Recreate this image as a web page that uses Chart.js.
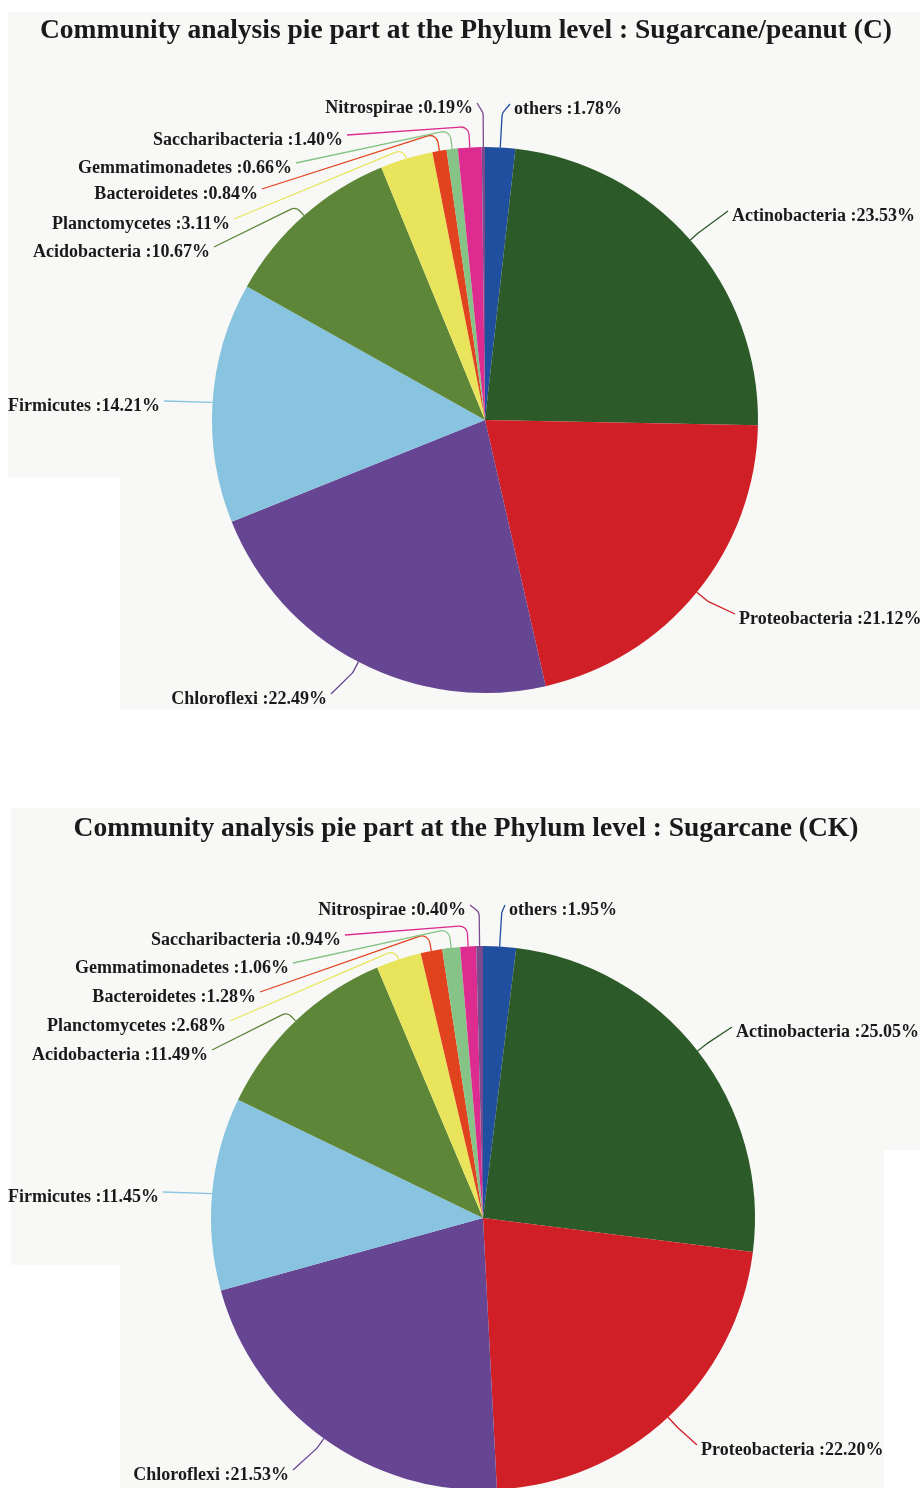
<!DOCTYPE html>
<html>
<head>
<meta charset="utf-8">
<script src="https://cdn.jsdelivr.net/npm/chart.js@4.4.1/dist/chart.umd.min.js"></script>
<style>
  html, body { margin: 0; padding: 0; background: #ffffff; }
  body { width: 920px; height: 1488px; position: relative; overflow: hidden; }
  .panel { position: absolute; background: #f8f8f6; }
  #panel1 { left: 8px; top: 12px; width: 912px; height: 697px;
    clip-path: polygon(0 0, 100% 0, 100% 100%, 112px 100%, 112px 465px, 0 465px); }
  #panel2 { left: 11px; top: 808px; width: 909px; height: 680px;
    clip-path: polygon(0 0, 100% 0, 100% 342px, 873px 342px, 873px 100%, 109px 100%, 109px 457px, 0 457px); }
  canvas { position: absolute; left: 0; }
  #pieC { top: 0; }
  #pieCK { top: 780px; }
</style>
</head>
<body>
<div class="panel" id="panel1"></div>
<div class="panel" id="panel2"></div>
<canvas id="pieC" width="920" height="740"></canvas>
<canvas id="pieCK" width="920" height="730"></canvas>
<script>
// 门水平物种组成
const phyla = ['others', 'Actinobacteria', 'Proteobacteria', 'Chloroflexi', 'Firmicutes', 'Acidobacteria',
  'Planctomycetes', 'Bacteroidetes', 'Gemmatimonadetes', 'Saccharibacteria', 'Nitrospirae'];
const valuesC = [1.78, 23.53, 21.12, 22.49, 14.21, 10.67, 3.11, 0.84, 0.66, 1.40, 0.19];
const valuesCK = [1.95, 25.05, 22.20, 21.53, 11.45, 11.49, 2.68, 1.28, 1.06, 0.94, 0.40];
const phylumColors = ['#1f4f9e', '#2d5a29', '#d01f26', '#664592', '#88c4e0', '#5e8639',
  '#e8e55c', '#e2431f', '#86c387', '#dc2c8f', '#7a4a8f'];

const titleC = 'Community analysis pie part at the Phylum level : Sugarcane/peanut (C)';
const titleCK = 'Community analysis pie part at the Phylum level : Sugarcane (CK)';

// label anchor [x, y, align, elbow] per slice, canvas px
const labelsC = [
  [510, 104, 'left', 34], [728, 211, 'left', 12], [735, 614, 'left', 14], [331, 694, 'right', 12],
  [164, 401, 'right', 0], [214, 247, 'right', 12], [234, 219, 'right', 10], [262, 189, 'right', 18],
  [296, 163, 'right', 19], [347, 135, 'right', 21], [477, 103, 'right', 34]
];
const labelsCK = [
  [505, 125, 'left', 34], [732, 247, 'left', 12], [697, 665, 'left', 14], [293, 690, 'right', 12],
  [163, 412, 'right', 0], [212, 270, 'right', 12], [230, 241, 'right', 10], [260, 212, 'right', 18],
  [293, 183, 'right', 19], [345, 155, 'right', 21], [470, 125, 'right', 34]
];

const leaderLabels = {
  id: 'leaderLabels',
  afterDraw(chart, args, opts) {
    const ctx = chart.ctx;
    const meta = chart.getDatasetMeta(0);
    const values = chart.data.datasets[0].data;
    ctx.save();
    // title
    ctx.fillStyle = '#1a1a1a';
    ctx.font = 'bold 27.5px "Liberation Serif", "Times New Roman", serif';
    ctx.textAlign = 'center';
    ctx.textBaseline = 'alphabetic';
    ctx.fillText(opts.title, opts.titleX, opts.titleY, opts.titleWidth);

    ctx.font = 'bold 18px "Liberation Serif", "Times New Roman", serif';
    ctx.textBaseline = 'middle';
    meta.data.forEach((arc, i) => {
      const [lx, ly, align, elbow] = opts.anchors[i];
      const p = arc.getProps(['x', 'y', 'startAngle', 'endAngle', 'outerRadius'], true);
      const mid = (p.startAngle + p.endAngle) / 2;
      const x0 = p.x + Math.cos(mid) * p.outerRadius;
      const y0 = p.y + Math.sin(mid) * p.outerRadius;
      const x1 = p.x + Math.cos(mid) * (p.outerRadius + elbow);
      const y1 = p.y + Math.sin(mid) * (p.outerRadius + elbow);

      ctx.strokeStyle = chart.data.datasets[0].backgroundColor[i];
      ctx.lineWidth = 1.3;
      ctx.beginPath();
      ctx.moveTo(x0, y0);
      if (elbow > 0) {
        ctx.arcTo(x1, y1, lx, ly, 8);
      }
      ctx.lineTo(lx, ly);
      ctx.stroke();

      const text = chart.data.labels[i] + ' :' + values[i].toFixed(2) + '%';
      ctx.textAlign = align;
      ctx.fillStyle = '#1a1a1a';
      const tx = align === 'left' ? lx + 4 : lx - 4;
      ctx.fillText(text, tx, ly + 5);
    });
    ctx.restore();
  }
};

function makePie(canvasId, values, anchors, title, titleY, titleWidth, padding) {
  return new Chart(document.getElementById(canvasId), {
    type: 'pie',
    data: {
      labels: phyla,
      datasets: [{
        data: values,
        backgroundColor: phylumColors,
        borderWidth: 0
      }]
    },
    options: {
      responsive: false,
      animation: false,
      layout: { padding: padding },
      plugins: {
        legend: { display: false },
        tooltip: { enabled: false },
        leaderLabels: { anchors: anchors, title: title, titleX: 466, titleY: titleY, titleWidth: titleWidth }
      }
    },
    plugins: [leaderLabels]
  });
}

makePie('pieC', valuesC, labelsC, titleC, 38, 855, { left: 212, right: 162, top: 147, bottom: 47 });
makePie('pieCK', valuesCK, labelsCK, titleCK, 56, 785, { left: 211, right: 165, top: 166, bottom: 20 });
</script>
</body>
</html>
